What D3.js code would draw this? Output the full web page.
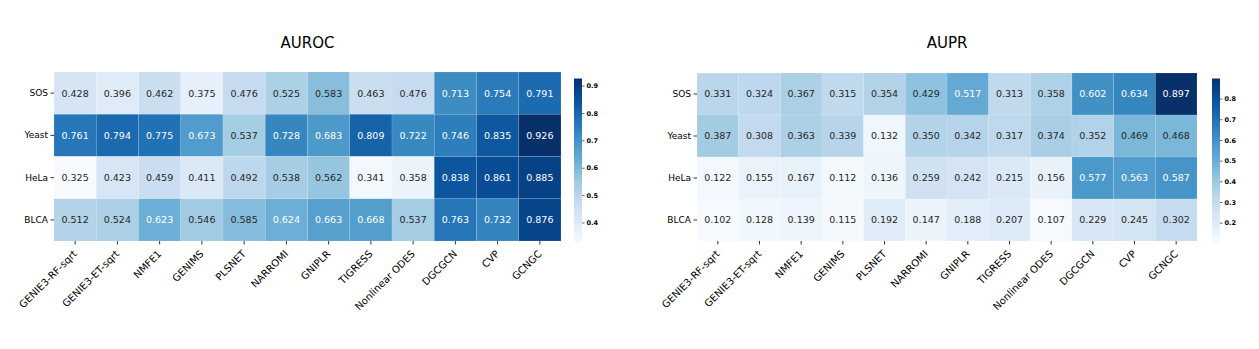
<!DOCTYPE html>
<html>
<head>
<meta charset="utf-8">
<script src="https://cdn.jsdelivr.net/npm/d3@7"></script>
<style>
  body { margin: 0; background: #fff; }
  text { font-family: "DejaVu Sans", sans-serif; }
</style>
</head>
<body>
<div id="chart"></div>
<script>
var methods = ["GENIE3-RF-sqrt", "GENIE3-ET-sqrt", "NMFE1", "GENIMS", "PLSNET", "NARROMI",
               "GNIPLR", "TIGRESS", "Nonlinear ODES", "DGCGCN", "CVP", "GCNGC"];
var datasets = ["SOS", "Yeast", "HeLa", "BLCA"];

var aurocValues = [
  [0.428, 0.396, 0.462, 0.375, 0.476, 0.525, 0.583, 0.463, 0.476, 0.713, 0.754, 0.791],
  [0.761, 0.794, 0.775, 0.673, 0.537, 0.728, 0.683, 0.809, 0.722, 0.746, 0.835, 0.926],
  [0.325, 0.423, 0.459, 0.411, 0.492, 0.538, 0.562, 0.341, 0.358, 0.838, 0.861, 0.885],
  [0.512, 0.524, 0.623, 0.546, 0.585, 0.624, 0.663, 0.668, 0.537, 0.763, 0.732, 0.876]
];
var auprValues = [
  [0.331, 0.324, 0.367, 0.315, 0.354, 0.429, 0.517, 0.313, 0.358, 0.602, 0.634, 0.897],
  [0.387, 0.308, 0.363, 0.339, 0.132, 0.350, 0.342, 0.317, 0.374, 0.352, 0.469, 0.468],
  [0.122, 0.155, 0.167, 0.112, 0.136, 0.259, 0.242, 0.215, 0.156, 0.577, 0.563, 0.587],
  [0.102, 0.128, 0.139, 0.115, 0.192, 0.147, 0.188, 0.207, 0.107, 0.229, 0.245, 0.302]
];
var aurocTicks = [0.4, 0.5, 0.6, 0.7, 0.8, 0.9];
var auprTicks = [0.2, 0.3, 0.4, 0.5, 0.6, 0.7, 0.8];

// matplotlib "Blues" anchor colours (linear segmented)
var blues = ["#f7fbff", "#deebf7", "#c6dbef", "#9ecae1", "#6baed6", "#4292c6", "#2171b5", "#08519c", "#08306b"];
var bluesMap = d3.scaleLinear()
  .domain(d3.range(blues.length).map(function(i) { return i / (blues.length - 1); }))
  .range(blues)
  .interpolate(d3.interpolateRgb);

var W = 1259, H = 349;
var svg = d3.select("#chart").append("svg")
  .attr("width", W).attr("height", H);

// same rule seaborn uses to pick the annotation colour
function luminance(c) {
  var rgb = d3.rgb(c);
  var ch = [rgb.r, rgb.g, rgb.b].map(function(v) {
    v = v / 255;
    return v <= 0.03928 ? v / 12.92 : Math.pow((v + 0.055) / 1.055, 2.4);
  });
  return 0.2126 * ch[0] + 0.7152 * ch[1] + 0.0722 * ch[2];
}

function heatmap(opt) {
  var values = opt.values;
  var flat = d3.merge(values);
  var vmin = d3.min(flat), vmax = d3.max(flat);
  var norm = d3.scaleLinear().domain([vmin, vmax]).range([0, 1]).clamp(true);
  var color = function(v) { return bluesMap(norm(v)); };

  var x = d3.scaleBand().domain(methods).range([opt.x0, opt.x1]);
  var y = d3.scaleBand().domain(datasets).range([opt.y0, opt.y1]);

  var g = svg.append("g");

  // title
  g.append("text")
    .attr("x", (opt.x0 + opt.x1) / 2)
    .attr("y", 48)
    .attr("text-anchor", "middle")
    .style("font-size", "15px")
    .style("fill", "#000")
    .text(opt.title);

  var cells = [];
  values.forEach(function(row, i) {
    row.forEach(function(v, j) {
      cells.push({ row: datasets[i], col: methods[j], value: v });
    });
  });

  g.selectAll("rect.cell")
    .data(cells)
    .enter().append("rect")
      .attr("class", "cell")
      .attr("x", function(d) { return x(d.col); })
      .attr("y", function(d) { return y(d.row); })
      .attr("width", x.bandwidth())
      .attr("height", y.bandwidth())
      .attr("fill", function(d) { return color(d.value); })
      .attr("stroke", "#fff")
      .attr("stroke-opacity", 0.2)
      .attr("stroke-width", 0.6);

  g.selectAll("text.val")
    .data(cells)
    .enter().append("text")
      .attr("class", "val")
      .attr("x", function(d) { return x(d.col) + x.bandwidth() / 2; })
      .attr("y", function(d) { return y(d.row) + y.bandwidth() / 2; })
      .attr("dy", "0.36em")
      .attr("text-anchor", "middle")
      .style("font-size", "9.5px")
      .style("fill", function(d) { return luminance(color(d.value)) > 0.408 ? "#262626" : "#fff"; })
      .text(function(d) { return d.value.toFixed(3); });

  // y axis
  var ya = g.append("g")
    .attr("transform", "translate(" + opt.x0 + ",0)")
    .call(d3.axisLeft(y).tickSize(3.5).tickPadding(2.5));
  ya.select(".domain").remove();
  ya.selectAll("text").style("font-size", "9px").style("fill", "#000")
    .style("font-family", "DejaVu Sans");
  ya.selectAll("line").attr("stroke", "#000").attr("stroke-width", 0.8);

  // x axis, labels rotated 45deg
  var xa = g.append("g")
    .attr("transform", "translate(0," + opt.y1 + ")")
    .call(d3.axisBottom(x).tickSize(3.5));
  xa.select(".domain").remove();
  xa.selectAll("line").attr("stroke", "#000").attr("stroke-width", 0.8);
  xa.selectAll("text")
    .style("font-size", "10px").style("fill", "#000")
    .style("font-family", "DejaVu Sans")
    .attr("text-anchor", "end")
    .attr("x", 0).attr("y", 0).attr("dy", "0.35em")
    .attr("transform", "translate(0,11) rotate(-45)");

  // colorbar
  var cb = { x: opt.cbx, y0: 78.5, y1: 243, w: 8 };
  var cs = d3.scaleLinear().domain([vmin, vmax]).range([cb.y1, cb.y0]);
  var gid = "grad-" + opt.title;
  var grad = svg.append("defs").append("linearGradient")
    .attr("id", gid)
    .attr("x1", 0).attr("y1", 1).attr("x2", 0).attr("y2", 0);
  d3.range(0, 1.0001, 0.125).forEach(function(t) {
    grad.append("stop").attr("offset", t).attr("stop-color", bluesMap(t));
  });
  g.append("rect")
    .attr("x", cb.x).attr("y", cb.y0)
    .attr("width", cb.w).attr("height", cb.y1 - cb.y0)
    .attr("fill", "url(#" + gid + ")");
  var ca = g.append("g")
    .attr("transform", "translate(" + (cb.x + cb.w) + ",0)")
    .call(d3.axisRight(cs).tickValues(opt.ticks).tickFormat(d3.format(".1f")).tickSize(2.5).tickPadding(2));
  ca.select(".domain").remove();
  ca.selectAll("line").attr("stroke", "#000").attr("stroke-width", 0.6);
  ca.selectAll("text").style("font-size", "6.5px").style("font-weight", "bold")
    .style("fill", "#000").style("font-family", "DejaVu Sans");
}

heatmap({ title: "AUROC", values: aurocValues, ticks: aurocTicks,
          x0: 54, x1: 561, y0: 72, y1: 241, cbx: 574 });
heatmap({ title: "AUPR", values: auprValues, ticks: auprTicks,
          x0: 697, x1: 1197, y0: 73, y1: 241, cbx: 1212 });
</script>
</body>
</html>
